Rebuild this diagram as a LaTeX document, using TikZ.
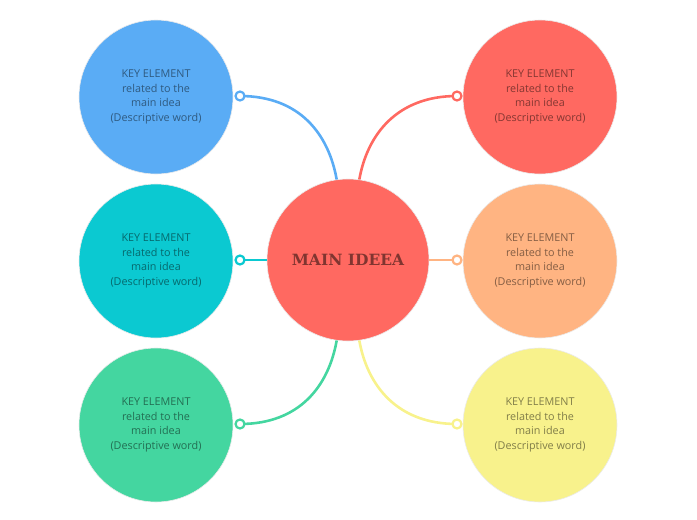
\documentclass[tikz,border=0pt]{standalone}
\usepackage{fontspec}
\setmainfont{Open Sans}
\newfontfamily\ideafont{DejaVu Serif}
\usetikzlibrary{positioning}
\definecolor{cblue}{HTML}{5AACF5}
\definecolor{ccyan}{HTML}{0BC9D1}
\definecolor{cgreen}{HTML}{44D6A0}
\definecolor{cred}{HTML}{FF6961}
\definecolor{corange}{HTML}{FFB482}
\definecolor{cyellow}{HTML}{F8F28C}
\tikzset{
  keybox/.style={circle, fill=#1, draw=black!8, line width=0.6pt, minimum size=154pt, inner sep=0pt,
    align=center, text=#1!52!black, font=\fontsize{10.8}{14.8}\selectfont},
  ring/.style={circle, draw=#1, fill=white, line width=2.2pt, minimum size=9pt, inner sep=0pt},
  link/.style={draw=#1, line width=2.6pt}
}
\begin{document}
\begin{tikzpicture}[x=1pt, y=-1pt]
  \useasboundingbox (0,0) rectangle (697,520);
  % central idea
  \node[circle, fill=cred, draw=black!8, line width=0.6pt, minimum size=162pt, inner sep=0pt,
    text=cred!50!black, font=\ideafont\bfseries\fontsize{15.5}{17}\selectfont] (main) at (348,260) {MAIN IDEEA};

  % key elements, left column
  \node[keybox=cblue] (k1) at (156,97) {KEY ELEMENT\\related to the\\main idea\\(Descriptive word)};
  \node[keybox=ccyan] (k2) at (156,261) {KEY ELEMENT\\related to the\\main idea\\(Descriptive word)};
  \node[keybox=cgreen] (k3) at (156,425) {KEY ELEMENT\\related to the\\main idea\\(Descriptive word)};
  % key elements, right column
  \node[keybox=cred] (k4) at (540,97) {KEY ELEMENT\\related to the\\main idea\\(Descriptive word)};
  \node[keybox=corange] (k5) at (540,261) {KEY ELEMENT\\related to the\\main idea\\(Descriptive word)};
  \node[keybox=cyellow] (k6) at (540,425) {KEY ELEMENT\\related to the\\main idea\\(Descriptive word)};

  % connector ends
  \coordinate (d1) at (240,96);
  \coordinate (d2) at (240,260);
  \coordinate (d3) at (240,424);
  \coordinate (d4) at (457,96);
  \coordinate (d5) at (457,260);
  \coordinate (d6) at (457,424);

  \draw[link=cblue] (d1) .. controls +(60,0) and +(-8,-45) .. (main.98);
  \draw[link=ccyan] (d2) -- (main.west);
  \draw[link=cgreen] (d3) .. controls +(60,0) and +(-8,45) .. (main.262);
  \draw[link=cred] (d4) .. controls +(-60,0) and +(8,-45) .. (main.82);
  \draw[link=corange] (d5) -- (main.east);
  \draw[link=cyellow] (d6) .. controls +(-60,0) and +(8,45) .. (main.278);

  \node[ring=cblue] (r1) at (d1) {};
  \node[ring=ccyan] (r2) at (d2) {};
  \node[ring=cgreen] (r3) at (d3) {};
  \node[ring=cred] (r4) at (d4) {};
  \node[ring=corange] (r5) at (d5) {};
  \node[ring=cyellow] (r6) at (d6) {};
\end{tikzpicture}
\end{document}
